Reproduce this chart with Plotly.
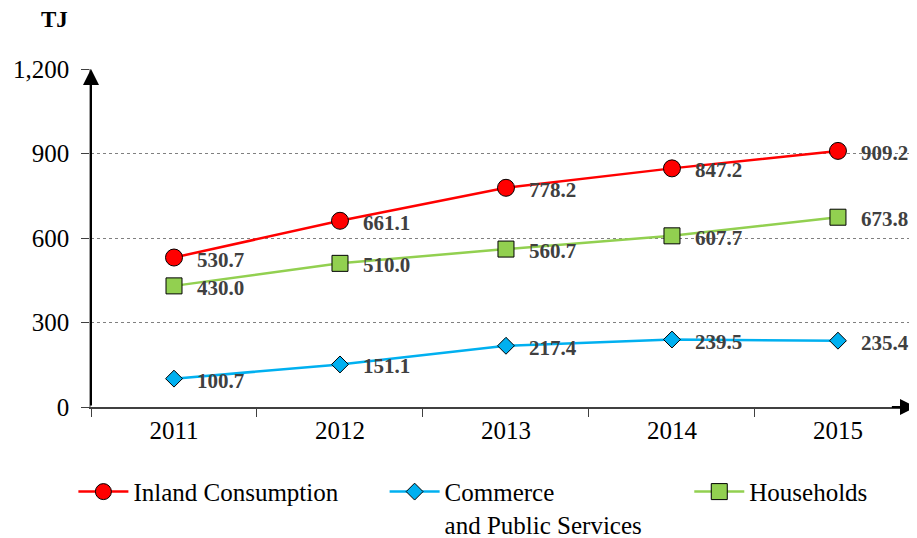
import plotly.graph_objects as go

years = ["2011", "2012", "2013", "2014", "2015"]
inland = [530.7, 661.1, 778.2, 847.2, 909.2]
commerce = [100.7, 151.1, 217.4, 239.5, 235.4]
households = [430.0, 510.0, 560.7, 607.7, 673.8]
yticks = [0, 300, 600, 900, 1200]

FONT = "Liberation Serif"
LABEL_COLOR = "#404040"

fig = go.Figure()
series = [
    ("Inland Consumption", inland, "#FF0000", "circle", 17, "legend"),
    ("Commerce<br>and Public Services", commerce, "#00B0F0", "diamond", 13, "legend2"),
    ("Households", households, "#92D050", "square", 16, "legend3"),
]
for name, vals, col, sym, sz, lg in series:
    fig.add_trace(go.Scatter(
        x=years, y=vals, name=name, mode="lines+markers", legend=lg,
        line=dict(color=col, width=2.5),
        marker=dict(symbol=sym, size=sz, color=col, line=dict(color="#000000", width=1)),
    ))
    for i, yv in enumerate(vals):
        fig.add_annotation(
            x=i, y=yv, xref="x", yref="y", text=f"<b>{yv:.1f}</b>", showarrow=False,
            xanchor="left", yanchor="middle", xshift=21, yshift=-2,
            font=dict(family=FONT, size=21, color=LABEL_COLOR),
        )

fig.add_annotation(x=0, y=1, xref="paper", yref="paper", ax=0, ay=338,
                   text="", showarrow=True,
                   arrowhead=2, arrowsize=1.6, arrowwidth=2, arrowcolor="#000000",
                   standoff=0)
fig.add_annotation(x=1.009, y=0, xref="paper", yref="paper", ax=-27, ay=0,
                   text="", showarrow=True,
                   arrowhead=2, arrowsize=1.6, arrowwidth=2, arrowcolor="#000000",
                   standoff=0)

fig.add_annotation(x=-0.045, y=1.145, xref="paper", yref="paper", text="<b>TJ</b>",
                   xanchor="center", yanchor="middle",
                   showarrow=False, font=dict(family=FONT, size=23, color="#000000"))

legfont = dict(family=FONT, size=25, color="#000000")
common = dict(orientation="v", yanchor="top", y=-0.183, xanchor="left",
              font=legfont, bgcolor="rgba(0,0,0,0)", itemwidth=50, valign="top")

fig.update_layout(
    width=909, height=530,
    margin=dict(l=83, r=7, t=61, b=131, autoexpand=False),
    plot_bgcolor="#FFFFFF", paper_bgcolor="#FFFFFF",
    font=dict(family=FONT, size=25, color="#000000"),
    showlegend=True,
    legend=dict(x=-0.0215, **common),
    legend2=dict(x=0.3585, **common),
    legend3=dict(x=0.7305, **common),
    xaxis=dict(type="category", range=[-0.5, 4.434], showgrid=False,
               showline=True, linecolor="#404040", linewidth=1.5,
               ticks="outside", tickson="boundaries", ticklen=8, tickcolor="#404040",
               tickfont=dict(family=FONT, size=25), zeroline=False, automargin=False),
    yaxis=dict(range=[0, 1200], tickvals=yticks, tickformat=",d",
               showgrid=True, gridcolor="#808080", griddash="dot", gridwidth=1,
               showline=True, linecolor="#A0A0A0", linewidth=1.5,
               ticks="outside", ticklen=8, tickcolor="#404040", ticklabelstandoff=7,
               tickfont=dict(family=FONT, size=25), zeroline=False, automargin=False),
)

fig.write_html("out.html")
